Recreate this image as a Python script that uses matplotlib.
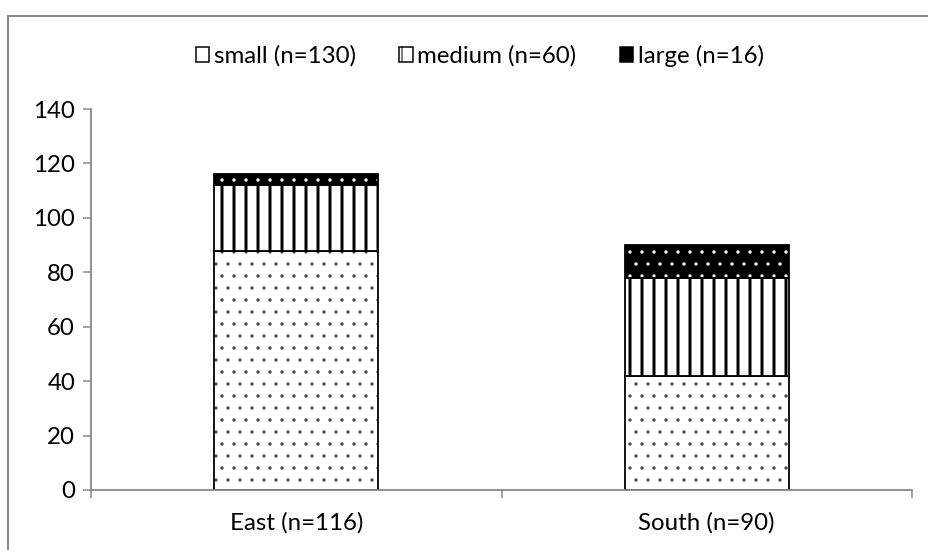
import matplotlib

matplotlib.use("Agg")
import matplotlib.pyplot as plt
import matplotlib.patches as patches
import numpy as np

plt.rcParams.update(
    {
        "font.family": ["Lato", "DejaVu Sans"],
        "font.size": 24,
        "hatch.linewidth": 1.0,
    }
)

REGIONS = ["East (n=116)", "South (n=90)"]
SIZES = ["small (n=130)", "medium (n=60)", "large (n=16)"]
SMALL = [88, 42]
MEDIUM = [24, 36]
LARGE = [4, 12]

AXIS_GREY = "#878787"
DPI = 72


def hatch_lw(bars, lw):
    for b in bars:
        if hasattr(b, "set_hatch_linewidth"):
            b.set_hatch_linewidth(lw)


fig = plt.figure(figsize=(928 / DPI, 550 / DPI), dpi=DPI)
ax = fig.add_axes([91 / 928, 1 - 490 / 550, 821 / 928, 381 / 550])

x = np.arange(len(REGIONS))
width = 0.4
small = np.array(SMALL)
medium = np.array(MEDIUM)
large = np.array(LARGE)

b_small = ax.bar(x, small, width, color="white", edgecolor="#444444", hatch=".", linewidth=0)
hatch_lw(b_small, 0.8)
ax.bar(x, small, width, fill=False, edgecolor="black", linewidth=1.8)
b_med = ax.bar(x, medium, width, bottom=small, color="white", edgecolor="black", hatch="|", linewidth=1.8)
hatch_lw(b_med, 3.0)
# black fill with white dots, then a black outline on top
b_large = ax.bar(x, large, width, bottom=small + medium, color="black", edgecolor="white", hatch=".", linewidth=0)
hatch_lw(b_large, 0.8)
ax.bar(x, large, width, bottom=small + medium, fill=False, edgecolor="black", linewidth=1.8)

ax.set_xlim(-0.5, 1.5)
ax.set_ylim(0, 140)
ax.set_yticks(np.arange(0, 141, 20))
ax.set_xticks(x)
ax.set_xticklabels(REGIONS)
ax.set_xticks([-0.5, 0.5, 1.5], minor=True)
ax.tick_params(axis="x", which="major", length=0, pad=22)
ax.tick_params(axis="x", which="minor", length=8, width=1.5, color=AXIS_GREY, direction="out")
ax.tick_params(axis="y", length=8, width=1.5, color=AXIS_GREY, direction="out", pad=8)

for side in ["top", "right"]:
    ax.spines[side].set_visible(False)
for side in ["left", "bottom"]:
    ax.spines[side].set_color(AXIS_GREY)
    ax.spines[side].set_linewidth(1.8)

handles = [
    patches.Patch(facecolor="white", edgecolor="black", linewidth=1.5),
    patches.Patch(facecolor="white", edgecolor="black", hatch="|", linewidth=1.5),
    patches.Patch(facecolor="black", edgecolor="black", linewidth=1.5),
]
fig.legend(
    handles,
    SIZES,
    loc="center",
    bbox_to_anchor=(480 / 928, 1 - 56 / 550),
    ncol=3,
    frameon=False,
    handlelength=0.55,
    handleheight=0.55,
    handletextpad=0.2,
    columnspacing=1.8,
    fontsize=24,
)

# chart area border
border = patches.Rectangle(
    (8 / 928, -0.1),
    1.2,
    1.1 - 16 / 550,
    transform=fig.transFigure,
    fill=False,
    edgecolor=AXIS_GREY,
    linewidth=2,
    clip_on=False,
)
fig.patches.append(border)

fig.savefig("out.png", dpi=DPI)
